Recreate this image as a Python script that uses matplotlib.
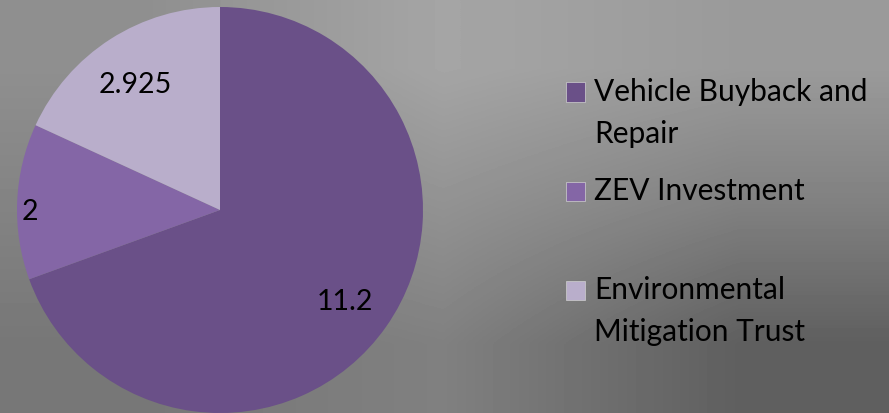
import numpy as np
import matplotlib
matplotlib.use("Agg")
from matplotlib import pyplot as plt
from matplotlib.patches import Rectangle

# Dati del grafico
etichette = ["Vehicle Buyback and\nRepair", "ZEV Investment", "Environmental\nMitigation Trust"]
valori = [11.2, 2, 2.925]
colori = ["#6a5088", "#8466a6", "#b9aecb"]

plt.rcParams["font.family"] = ["Lato", "DejaVu Sans"]

W, H = 889, 413
fig = plt.figure(figsize=(W / 100, H / 100), dpi=100)

# Sfondo grigio sfumato (griglia 3x3 di toni, interpolata)
bg = fig.add_axes([0, 0, 1, 1])
toni = np.array([[0x8f, 0xa5, 0x9a],
                 [0x83, 0x92, 0x80],
                 [0x77, 0x80, 0x5f]]) / 255.0
bg.imshow(toni, cmap="gray", vmin=0, vmax=1, interpolation="bilinear",
          extent=[0, 1, 0, 1], aspect="auto")
bg.axis("off")

# Torta
ax = fig.add_axes([17 / W, 0, 406 / W, 406 / H])
fette, _ = ax.pie(valori, colors=colori, startangle=90, counterclock=False,
                  radius=1, wedgeprops={"linewidth": 0})
ax.set_xlim(-1, 1)
ax.set_ylim(-1, 1)
ax.set_aspect("equal")
ax.axis("off")

# Etichette dei valori (posizione in pixel)
pos_etichette = [(345, 302), (30, 212), (135, 85)]
for v, (px, py) in zip(valori, pos_etichette):
    fig.text(px / W, 1 - py / H, f"{v:g}", fontsize=20.5, ha="center", va="center",
             color="black")

# Legenda manuale
y_quadrati = [92, 191, 290]
for lab, col, yq in zip(etichette, colori, y_quadrati):
    fig.patches.append(Rectangle((566 / W, 1 - (yq + 9.5) / H), 19 / W, 19 / H,
                                 transform=fig.transFigure, facecolor=col,
                                 edgecolor="#d0d0d0", linewidth=0.5))
    fig.text(594 / W, 1 - (yq - 14) / H, lab, fontsize=21.5, ha="left", va="top",
             linespacing=1.6, color="black")

fig.savefig("out.png", dpi=100)
